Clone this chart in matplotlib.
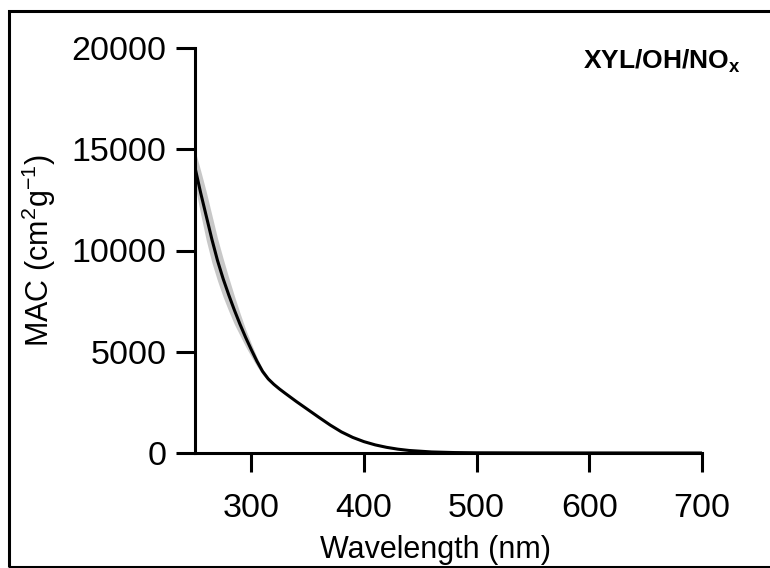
import numpy as np
import matplotlib
matplotlib.use('Agg')
import matplotlib.pyplot as plt
from matplotlib.patches import Rectangle

plt.rcParams['font.family'] = 'Liberation Sans'
plt.rcParams['mathtext.fontset'] = 'custom'
plt.rcParams['mathtext.rm'] = 'Liberation Sans'
plt.rcParams['mathtext.bf'] = 'Liberation Sans:bold'
plt.rcParams['mathtext.default'] = 'regular'

# wavelength (nm) and MAC (cm2 g-1)
wavelength = [250, 255, 260, 265, 270, 275, 280, 285, 290, 295, 300, 305, 310,
              315, 320, 325, 330, 340, 350, 360, 370, 380, 390, 400, 410, 420,
              430, 440, 460, 480, 500, 550, 600, 650, 700]
mac = [14100, 12850, 11700, 10550, 9500, 8600, 7800, 7050, 6350, 5700, 5100,
       4530, 4030, 3660, 3390, 3160, 2950, 2540, 2150, 1760, 1380, 1040, 770,
       560, 400, 280, 190, 125, 52, 22, 10, 4, 2, 1, 0]
mac_upper = [14950, 13950, 12900, 11750, 10600, 9600, 8650, 7750, 6900, 6100,
             5400, 4730, 4150, 3740, 3440, 3200, 2980, 2570, 2170, 1780, 1395,
             1050, 780, 570, 405, 284, 193, 127, 53, 23, 11, 5, 3, 2, 1]
mac_lower = [13200, 11800, 10500, 9400, 8500, 7700, 7000, 6350, 5800, 5250,
             4750, 4280, 3870, 3560, 3330, 3110, 2910, 2510, 2130, 1740, 1365,
             1030, 760, 550, 395, 276, 187, 123, 51, 21, 9, 3, 1, 0, 0]

fig = plt.figure(figsize=(7.7, 5.68), dpi=100)
ax = fig.add_axes([195 / 770, 1 - 453 / 568, 507 / 770, 405 / 568])

ax.fill_between(wavelength, mac_lower, mac_upper, color='#c8c8c8', lw=0)
ax.plot(wavelength, mac, color='black', lw=2.2)

ax.set_xlim(250, 700)
ax.set_ylim(0, 20000)
ax.set_xticks([300, 400, 500, 600, 700])
ax.set_yticks([0, 5000, 10000, 15000, 20000])

for s in ['top', 'right']:
    ax.spines[s].set_visible(False)
for s in ['left', 'bottom']:
    ax.spines[s].set_linewidth(2.2)

ax.tick_params(axis='both', direction='out', length=13.5, width=2.2,
               labelsize=24.5)
ax.tick_params(axis='x', pad=15.5)
ax.tick_params(axis='y', pad=7)

ax.set_xlabel('Wavelength (nm)', fontsize=22)
ax.xaxis.set_label_coords(0.475, -0.203)
ax.set_ylabel('MAC (cm$^{2}$g$^{-1}$)', fontsize=22, labelpad=10)

ax.text(1.075, 0.948, r'XYL/OH/NO$_\mathbf{x}$', transform=ax.transAxes,
        ha='right', va='baseline', fontsize=19, fontweight='bold')

# frame around the whole figure (open on the right)
fig.add_artist(Rectangle((8.7 / 770, 1 / 568), 1.2, 1 - 11.5 / 568,
                         transform=fig.transFigure, fill=False,
                         lw=2.2, ec='black', clip_on=False))

plt.savefig('out.png', dpi=100)
